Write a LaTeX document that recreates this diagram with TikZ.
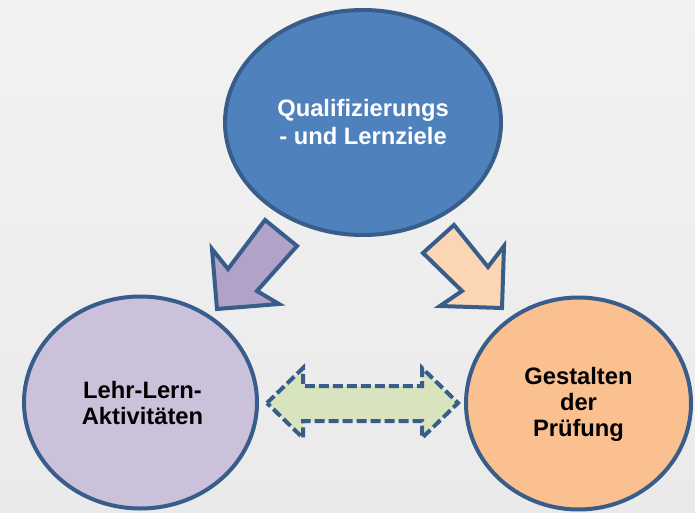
\documentclass[tikz,border=0pt]{standalone}
\usepackage{fontspec}
\setmainfont{Liberation Sans}
\usepackage{xcolor}
\definecolor{bgGray}{HTML}{F2F2F2}
\definecolor{bgLow}{HTML}{EAEAEA}
\definecolor{rimBlue}{HTML}{385D8A}
\definecolor{zielBlue}{HTML}{4F81BD}
\definecolor{lehrLila}{HTML}{CCC1DA}
\definecolor{pfeilLila}{HTML}{B3A2C7}
\definecolor{pruefOrange}{HTML}{FAC090}
\definecolor{pfeilPeach}{HTML}{FCD5B5}
\definecolor{pfeilGruen}{HTML}{D7E4BD}

\begin{document}
\begin{tikzpicture}[x=0.75pt,y=0.75pt,yscale=-1,xscale=1,
    rim/.style={draw=rimBlue, line width=3pt, line join=miter},
    label/.style={align=center, font=\bfseries\fontsize{17.8pt}{19.5pt}\selectfont}]
            %Background
            \shade [top color=bgGray, middle color=bgGray, bottom color=bgLow] (0,0) rectangle (695,513) ;
            \useasboundingbox (0,0) rectangle (695,513) ;
            
            %Shape: Ellipse [top]
            \draw [rim, fill=zielBlue] (363,122.5) ellipse (138 and 112.5) ;
            %Shape: Ellipse [left]
            \draw [rim, fill=lehrLila] (140.5,402.5) ellipse (116.5 and 106) ;
            %Shape: Ellipse [right]
            \draw [rim, fill=pruefOrange] (578.5,403.5) ellipse (112.5 and 106) ;
            
            %Shape: Block Arrow [down left]
            \draw [rim, fill=pfeilLila] (265,220) -- (297,246) -- (257,291) -- (279,304) -- (217,309) -- (212,249) -- (228,269) -- cycle ;
            %Shape: Block Arrow [down right]
            \draw [rim, fill=pfeilPeach] (454,225) -- (423,253) -- (462,291) -- (440,306) -- (502,308) -- (504,246) -- (488,267) -- cycle ;
            %Shape: Double Arrow [dashed]
            \draw [rim, fill=pfeilGruen, dash pattern={on 7.5pt off 3pt}] (267,403) -- (303,368) -- (303,386) -- (422,386) -- (422,368) -- (458,403) -- (422,438) -- (422,421) -- (303,421) -- (303,438) -- cycle ;
            
            % Text Node
            \draw (363,122.5) node (ziele) [label, text=white, font=\bfseries\fontsize{17.8pt}{21pt}\selectfont] {Qualifizierungs\\- und Lernziele};
            % Text Node
            \draw (142.5,403) node (lehre) [label] {Lehr-Lern-\\Aktivitäten};
            % Text Node
            \draw (578.5,404) node (pruefung) [label] {Gestalten\\der\\Prüfung};
            
\end{tikzpicture}
\end{document}
